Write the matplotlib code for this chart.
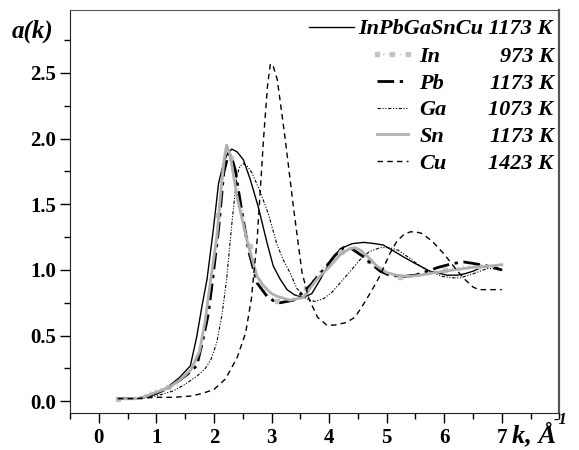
import numpy as np
import matplotlib
matplotlib.use('Agg')
import matplotlib.pyplot as plt
from matplotlib.ticker import MultipleLocator

plt.rcParams['font.family'] = ['Liberation Serif', 'DejaVu Serif']

# values
k_alloy = [0.33, 0.7, 1.0, 1.2, 1.4, 1.59, 1.7, 1.79, 1.88, 1.99, 2.08, 2.17, 2.24, 2.31, 2.4, 2.51,
           2.63, 2.77, 2.92, 3.03, 3.15, 3.27, 3.4, 3.55, 3.7, 3.85, 4.0, 4.19, 4.4, 4.6, 4.8,
           4.94, 5.1, 5.29, 5.45, 5.58, 5.75, 5.87, 6.05, 6.22, 6.35, 6.5, 6.65, 6.8, 6.9, 7.0]
a_alloy = [0.02, 0.02, 0.06, 0.11, 0.18, 0.27, 0.49, 0.72, 0.93, 1.31, 1.66, 1.82, 1.89, 1.92, 1.90, 1.84,
           1.69, 1.48, 1.21, 1.03, 0.93, 0.85, 0.81, 0.79, 0.82, 0.93, 1.05, 1.16, 1.20, 1.21, 1.20,
           1.19, 1.15, 1.10, 1.06, 1.03, 0.99, 0.98, 0.96, 0.96, 0.97, 0.99, 1.02, 1.03, 1.02, 1.00]

k_in = [0.33, 0.7, 1.0, 1.2, 1.36, 1.55, 1.7, 1.85, 1.97, 2.07, 2.15, 2.22, 2.3, 2.4, 2.5,
        2.62, 2.75, 2.92, 3.1, 3.25, 3.4, 3.6, 3.8, 4.0, 4.2, 4.35, 4.5, 4.7, 4.9, 5.1,
        5.24, 5.45, 5.7, 6.02, 6.2, 6.39, 6.6, 6.8, 7.0]
a_in = [0.02, 0.03, 0.09, 0.11, 0.12, 0.22, 0.33, 0.62, 0.98, 1.42, 1.80, 1.93, 1.85, 1.67, 1.45,
        1.18, 0.95, 0.82, 0.76, 0.75, 0.78, 0.86, 0.97, 1.07, 1.14, 1.16, 1.14, 1.07, 1.00, 0.96,
        0.95, 0.96, 0.98, 1.00, 1.02, 1.03, 1.03, 1.03, 1.03]

k_pb = [0.33, 0.7, 1.0, 1.2, 1.4, 1.55, 1.7, 1.8, 1.9, 1.97, 2.08, 2.17, 2.25, 2.3, 2.37,
        2.49, 2.6, 2.75, 2.92, 3.05, 3.15, 3.38, 3.52, 3.67, 3.8, 3.96, 4.1, 4.25, 4.4, 4.6,
        4.75, 4.89, 5.05, 5.29, 5.5, 5.7, 5.9, 6.16, 6.35, 6.5, 6.75, 7.0]
a_pb = [0.02, 0.02, 0.06, 0.10, 0.16, 0.21, 0.27, 0.45, 0.66, 0.90, 1.31, 1.74, 1.88, 1.87, 1.76,
        1.43, 1.15, 0.90, 0.80, 0.76, 0.75, 0.77, 0.82, 0.88, 0.95, 1.03, 1.11, 1.17, 1.16, 1.10,
        1.04, 0.99, 0.96, 0.95, 0.96, 0.99, 1.02, 1.05, 1.06, 1.05, 1.03, 1.00]

k_ga = [0.33, 0.7, 1.0, 1.3, 1.5, 1.7, 1.85, 1.95, 2.05, 2.14, 2.22, 2.31, 2.4, 2.45, 2.51,
        2.58, 2.66, 2.8, 2.95, 3.09, 3.2, 3.32, 3.44, 3.6, 3.75, 3.9, 4.05, 4.19, 4.35, 4.54,
        4.7, 4.89, 5.05, 5.2, 5.4, 5.58, 5.8, 5.98, 6.15, 6.28, 6.5, 6.74, 6.9, 7.0]
a_ga = [0.02, 0.02, 0.04, 0.08, 0.13, 0.19, 0.25, 0.32, 0.45, 0.66, 0.93, 1.35, 1.72, 1.79, 1.81,
        1.79, 1.74, 1.60, 1.42, 1.20, 1.08, 0.98, 0.86, 0.78, 0.76, 0.78, 0.83, 0.90, 0.98, 1.08,
        1.14, 1.17, 1.17, 1.15, 1.09, 1.03, 0.98, 0.95, 0.94, 0.94, 0.97, 1.01, 1.01, 1.00]

k_sn = [0.33, 0.7, 1.0, 1.2, 1.4, 1.6, 1.75, 1.85, 1.95, 2.05, 2.12, 2.18, 2.22, 2.28, 2.4,
        2.57, 2.75, 2.86, 3.0, 3.09, 3.32, 3.55, 3.79, 4.02, 4.2, 4.35, 4.45, 4.55, 4.7, 4.83,
        5.0, 5.18, 5.4, 5.58, 5.85, 6.16, 6.5, 6.8, 7.0]
a_sn = [0.02, 0.02, 0.07, 0.10, 0.16, 0.24, 0.38, 0.62, 0.95, 1.25, 1.60, 1.85, 1.95, 1.88, 1.56,
        1.23, 0.95, 0.88, 0.82, 0.80, 0.77, 0.79, 0.93, 1.03, 1.12, 1.16, 1.17, 1.15, 1.09, 1.03,
        0.98, 0.96, 0.95, 0.96, 0.98, 1.00, 1.02, 1.03, 1.04]

k_cu = [0.33, 0.6, 1.0, 1.3, 1.6, 1.8, 2.0, 2.2, 2.4, 2.55, 2.65, 2.75, 2.86, 2.93, 2.98,
        3.03, 3.1, 3.24, 3.38, 3.53, 3.65, 3.8, 3.96, 4.1, 4.3, 4.45, 4.6, 4.75, 4.89, 5.05,
        5.18, 5.3, 5.41, 5.5, 5.6, 5.7, 5.81, 6.0, 6.16, 6.33, 6.5, 6.6, 6.8, 7.0]
a_cu = [0.02, 0.02, 0.03, 0.03, 0.04, 0.06, 0.09, 0.17, 0.33, 0.52, 0.78, 1.23, 1.99, 2.40, 2.57,
        2.55, 2.45, 1.99, 1.48, 0.98, 0.78, 0.64, 0.58, 0.58, 0.60, 0.64, 0.74, 0.85, 0.96, 1.12,
        1.22, 1.27, 1.29, 1.29, 1.28, 1.25, 1.21, 1.12, 1.03, 0.94, 0.87, 0.85, 0.85, 0.85]

names = ['InPbGaSnCu 1173 K', 'In', 'Pb', 'Ga', 'Sn', 'Cu']
temps = ['973 K', '1173 K', '1073 K', '1173 K', '1423 K']

fig = plt.figure(figsize=(5.79, 4.5), dpi=100)
ax = fig.add_axes([0.121, 0.082, 0.845, 0.896])

l0, = ax.plot(k_alloy, a_alloy, color='black', lw=1.0, label=names[0])
l1, = ax.plot(k_in, a_in, color='#c4c4c4', lw=1.0, ls=(0, (1, 3)), marker='s', ms=3.5,
              markevery=3, mec='#c4c4c4', mfc='#c4c4c4', label=names[1])
l2, = ax.plot(k_pb, a_pb, color='black', lw=2.0, ls=(0, (6, 2, 1.2, 2)), label=names[2])
l3, = ax.plot(k_ga, a_ga, color='black', lw=0.8, ls=(0, (3, 1.5, 1, 1.5, 1, 1.5)), label=names[3])
l4, = ax.plot(k_sn, a_sn, color='#b0b0b0', lw=2.0, label=names[4])
l5, = ax.plot(k_cu, a_cu, color='black', lw=1.0, ls=(0, (4, 3)), label=names[5])

ax.set_xlim(-0.5, 8.0)
ax.set_ylim(-0.09, 2.98)
ax.xaxis.set_minor_locator(MultipleLocator(0.5))
ax.yaxis.set_minor_locator(MultipleLocator(0.25))
ax.set_xticks(range(0, 8))
ax.set_yticks([0.0, 0.5, 1.0, 1.5, 2.0, 2.5])
ax.set_yticklabels(['0.0', '0.5', '1.0', '1.5', '2.0', '2.5'])
ax.tick_params(which='major', direction='out', length=7, width=1, labelsize=15,
               top=False, right=False)
ax.tick_params(which='minor', direction='out', length=4, width=1, top=False, right=False)
for lab in ax.get_xticklabels() + ax.get_yticklabels():
    lab.set_fontweight('bold')
ax.tick_params(axis='x', pad=4)
ax.tick_params(axis='y', pad=3)
for s in ['left', 'bottom']:
    ax.spines[s].set_color('#222222')
for s in ['top', 'right']:
    ax.spines[s].set_color('#555555')
ax.spines['right'].set_linewidth(1.6)

fig.text(0.057, 0.93, 'a(k)', fontsize=18, fontweight='bold', style='italic',
         ha='center', va='center')
fig.text(0.884, 0.033, 'k, Å', fontsize=19, fontweight='bold', style='italic',
         ha='left', va='center')
fig.text(0.957, 0.066, '-1', fontsize=12, fontweight='bold', style='italic',
         ha='left', va='center')

leg_kw = dict(frameon=False, borderpad=0, borderaxespad=0, labelspacing=0.28,
              handlelength=2.0, handletextpad=0.2, loc='upper left',
              prop={'size': 16, 'weight': 'bold', 'style': 'italic'})
leg1 = ax.legend(handles=[l0], bbox_to_anchor=(0.489, 0.978), **leg_kw)
ax.add_artist(leg1)
leg2 = ax.legend(handles=[l1, l2, l3, l4, l5], bbox_to_anchor=(0.6135, 0.91),
                 numpoints=3, **leg_kw)

# temperatures right-aligned on the same rows as the legend names
fig.canvas.draw()
inv = ax.transAxes.inverted()
for txt, t in zip(leg2.get_texts(), temps):
    bb = txt.get_window_extent()
    yc = inv.transform((0, (bb.y0 + bb.y1) / 2))[1]
    ax.text(0.988, yc, t, transform=ax.transAxes, ha='right', va='center',
            fontsize=16, fontweight='bold', style='italic')

fig.savefig('out.png', dpi=100)
